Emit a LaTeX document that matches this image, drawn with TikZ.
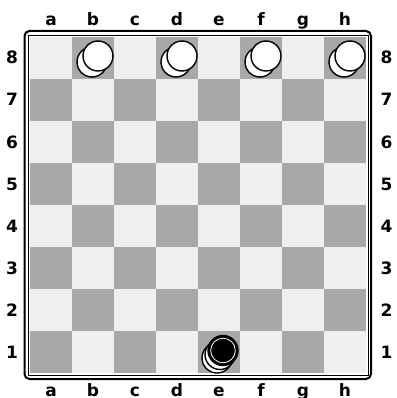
\documentclass[tikz,border=0pt]{standalone}
\usepackage{fontspec}
\setmainfont{DejaVu Sans}
\definecolor{lightsq}{HTML}{EFEFEF}
\definecolor{darksq}{HTML}{A8A8A8}

\begin{document}
\begin{tikzpicture}[x=1pt,y=-1pt,
  coord/.style={font=\bfseries\fontsize{17}{17}\selectfont,anchor=base},
  whiteman/.style={draw=black,line width=1.4pt,fill=white},
  blackman/.style={fill=black}]
\useasboundingbox (0,0) rectangle (396,398);
% squares
\foreach \c in {1,...,8}
  \foreach \r in {1,...,8} {
    \pgfmathtruncatemacro\s{mod(\c+\r,2)}
    \ifnum\s=0 \def\sqcol{darksq}\else\def\sqcol{lightsq}\fi
    \fill[\sqcol] (30+42*\c-42,373-42*\r) rectangle +(42,42);
  }
% frame
\draw[line width=0.8pt] (28,35) rectangle (368,375);
\draw[line width=2pt,rounded corners=5pt] (24.5,31) rectangle (371,379);
% coordinates
\foreach \l [count=\c] in {a,b,c,d,e,f,g,h} {
  \node[coord] (top\l) at (30+42*\c-21,25.5) {\l};
  \node[coord] (bot\l) at (30+42*\c-21,396) {\l};
}
\foreach \r in {1,...,8} {
  \node[coord] (left\r) at (12,373-42*\r+27) {\r};
  \node[coord] (right\r) at (386.5,373-42*\r+27) {\r};
}
% white men on row 8
\foreach \c in {2,4,6,8} {
  \draw[whiteman] (30+42*\c-21-1,62) circle (15pt);
  \draw[whiteman] (30+42*\c-21+5,56) circle (15pt);
}
% black man on e1
\draw[whiteman] (217,358) circle (15pt);
\draw[whiteman] (220,354.5) circle (15pt);
\fill[blackman] (223,350.5) circle (15.7pt);
\draw[white,line width=0.8pt] (223,350.5) circle (12.3pt);
\end{tikzpicture}
\end{document}
